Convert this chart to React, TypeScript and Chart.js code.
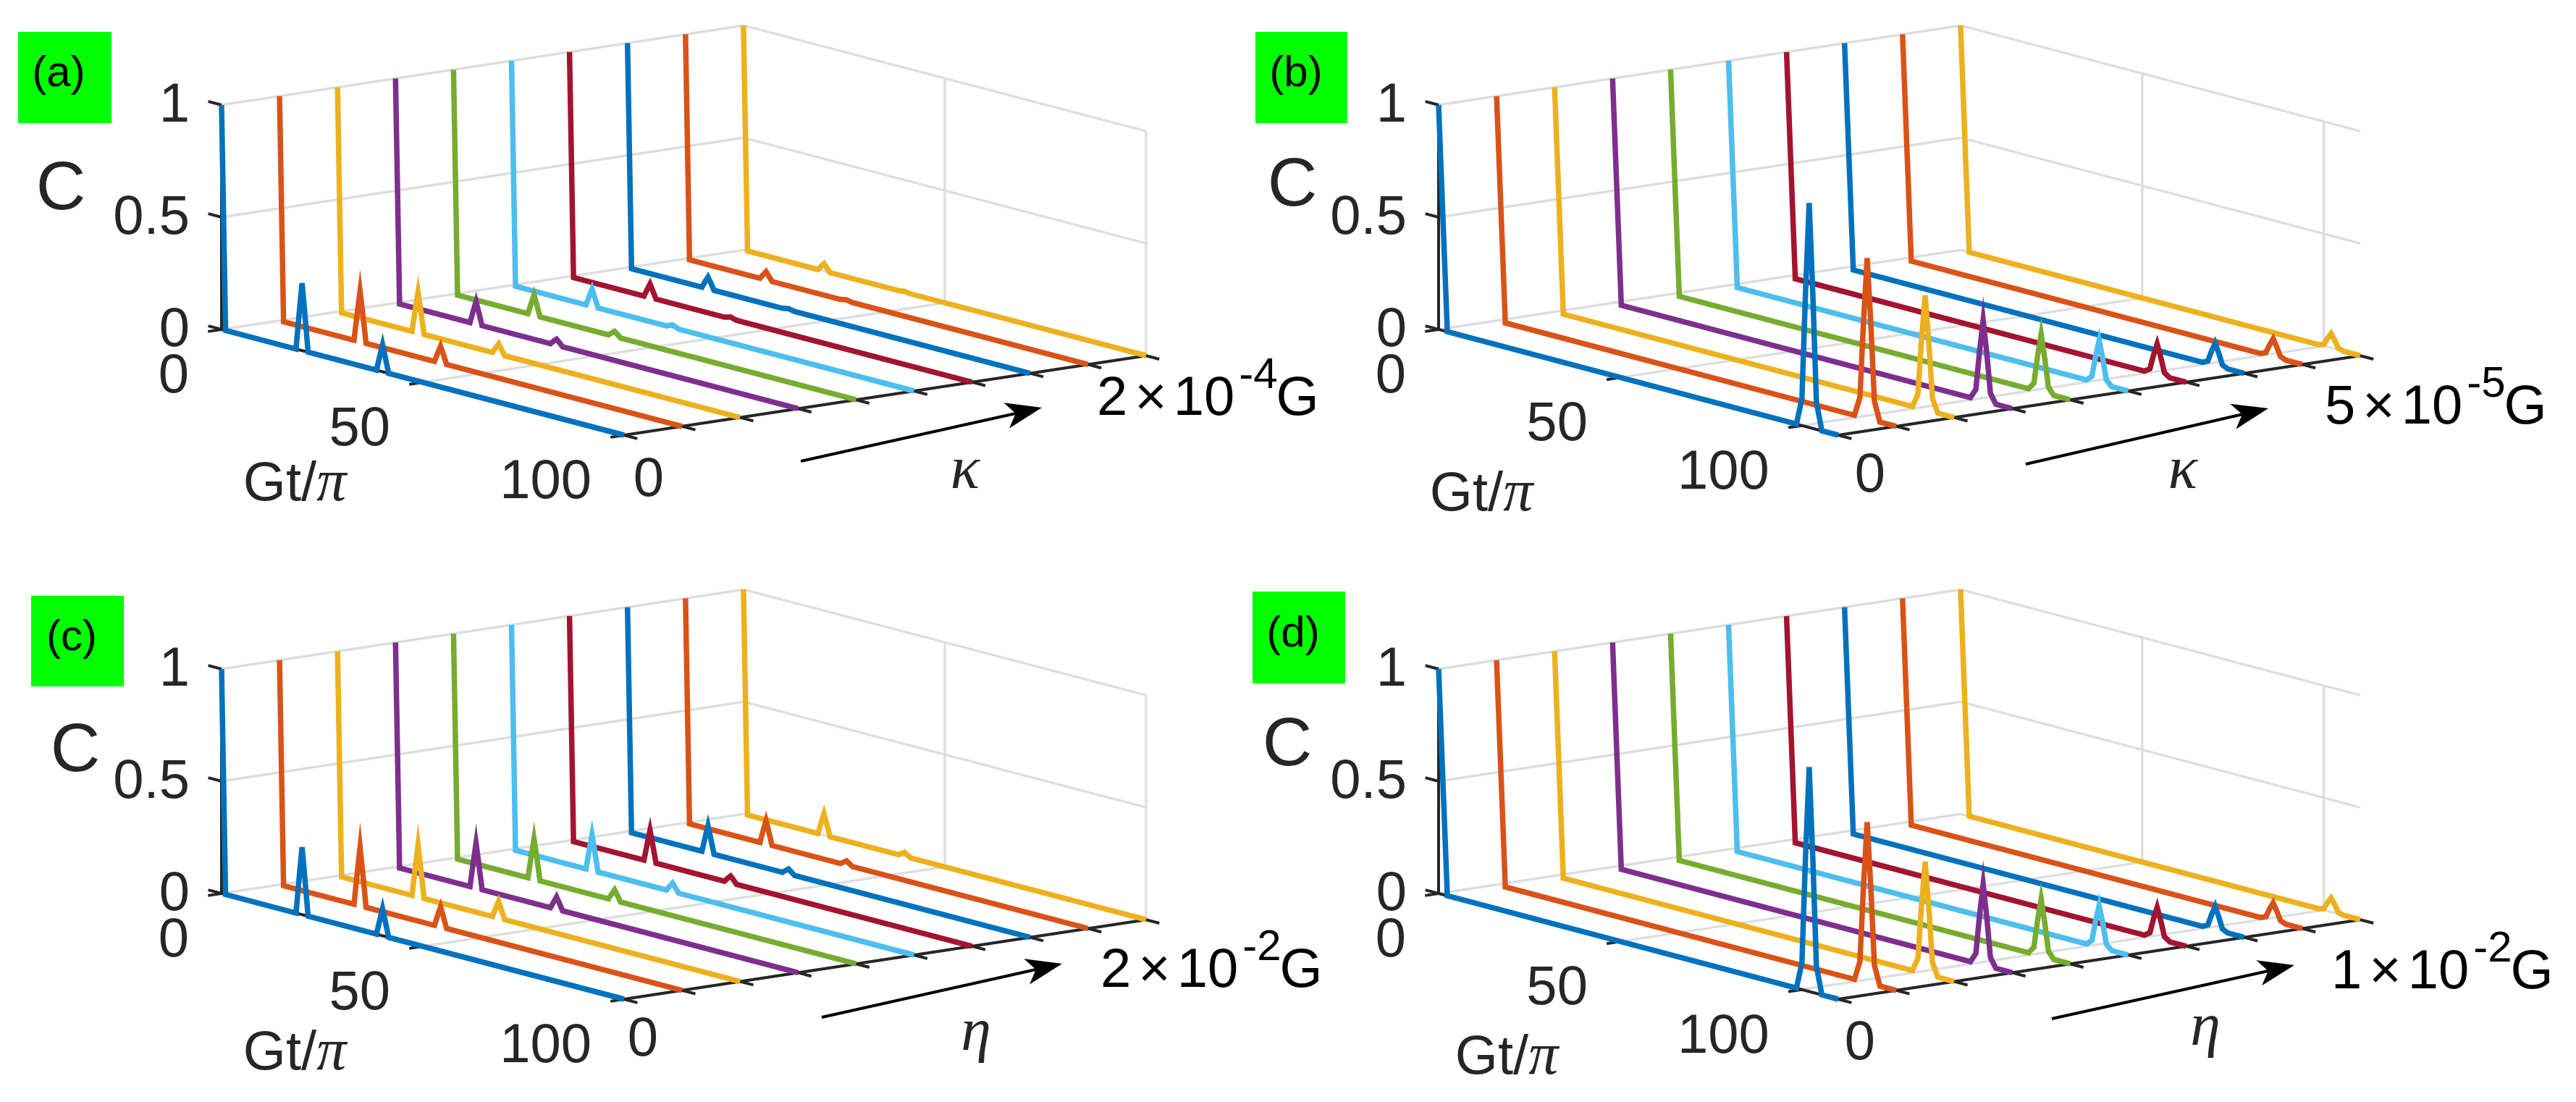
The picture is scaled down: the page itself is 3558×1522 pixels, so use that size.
import React, { useEffect, useRef } from 'react';
import { Chart, registerables } from 'chart.js';

Chart.register(...registerables);

const PAGE_W = 3558;
const PAGE_H = 1522;

// ---------------- data ----------------
const panelIds = ['a', 'b', 'c', 'd'];
const sweepSymbols = ['κ', 'κ', 'η', 'η'];
const sweepMaxMantissa = ['2', '5', '2', '1'];
const sweepMaxExponent = ['-4', '-5', '-2', '-2'];
const sweepTickLabel = '0';
const timeMax = [100, 110, 100, 110];
const timeTicks = [0, 50, 100];
const cTicks = [0, 0.5, 1];
const cTickLabels = ['0', '0.5', '1'];
const traceCount = 10;

// sample times (Gt/pi)
const timesAC = [0, 0.5, 1, 18.5, 19.3, 20, 20.7, 21.5, 38.5, 39.3, 40, 40.7, 41.5, 100];
const timesBD = [0, 1.2, 2.4, 98.5, 100, 101, 102, 103, 104, 105.5, 110];

// concurrence C for each trace (rows: sweep index 0..9)
const concurrenceA = [
  [1, 0.5, 0, 0, 0.165, 0.30, 0.165, 0, 0, 0.066, 0.12, 0.066, 0, 0],
  [1, 0.5, 0, 0, 0.124, 0.225, 0.124, 0, 0, 0.041, 0.074, 0.041, 0, 0],
  [1, 0.5, 0, 0, 0.099, 0.18, 0.099, 0, 0, 0.025, 0.045, 0.025, 0, 0],
  [1, 0.5, 0, 0, 0.055, 0.10, 0.055, 0, 0, 0.015, 0.027, 0.015, 0, 0],
  [1, 0.5, 0, 0, 0.05, 0.09, 0.05, 0, 0, 0.012, 0.022, 0.012, 0, 0],
  [1, 0.5, 0, 0, 0.042, 0.077, 0.042, 0, 0, 0.007, 0.012, 0.007, 0, 0],
  [1, 0.5, 0, 0, 0.033, 0.06, 0.033, 0, 0, 0.004, 0.008, 0.004, 0, 0],
  [1, 0.5, 0, 0, 0.029, 0.052, 0.029, 0, 0, 0.003, 0.006, 0.003, 0, 0],
  [1, 0.5, 0, 0, 0.02, 0.037, 0.02, 0, 0, 0.003, 0.005, 0.003, 0, 0],
  [1, 0.5, 0, 0, 0.018, 0.033, 0.018, 0, 0, 0.002, 0.004, 0.002, 0, 0],
];

const concurrenceB = [
  [1, 0.5, 0, 0, 0.12, 0.6, 1.0, 0.6, 0.12, 0, 0],
  [1, 0.5, 0, 0, 0.086, 0.429, 0.715, 0.429, 0.086, 0, 0],
  [1, 0.5, 0, 0, 0.061, 0.306, 0.51, 0.306, 0.061, 0, 0],
  [1, 0.5, 0, 0, 0.043, 0.216, 0.36, 0.216, 0.043, 0, 0],
  [1, 0.5, 0, 0, 0.031, 0.154, 0.257, 0.154, 0.031, 0, 0],
  [1, 0.5, 0, 0, 0.023, 0.114, 0.19, 0.114, 0.023, 0, 0],
  [1, 0.5, 0, 0, 0.016, 0.082, 0.136, 0.082, 0.016, 0, 0],
  [1, 0.5, 0, 0, 0.012, 0.06, 0.10, 0.06, 0.012, 0, 0],
  [1, 0.5, 0, 0, 0.01, 0.048, 0.08, 0.048, 0.01, 0, 0],
  [1, 0.5, 0, 0, 0.008, 0.038, 0.064, 0.038, 0.008, 0, 0],
];

const concurrenceC = [
  [1, 0.5, 0, 0, 0.165, 0.30, 0.165, 0, 0, 0.066, 0.12, 0.066, 0, 0],
  [1, 0.5, 0, 0, 0.143, 0.26, 0.143, 0, 0, 0.049, 0.089, 0.049, 0, 0],
  [1, 0.5, 0, 0, 0.127, 0.23, 0.127, 0, 0, 0.041, 0.074, 0.041, 0, 0],
  [1, 0.5, 0, 0, 0.11, 0.20, 0.11, 0, 0, 0.03, 0.055, 0.03, 0, 0],
  [1, 0.5, 0, 0, 0.099, 0.18, 0.099, 0, 0, 0.026, 0.047, 0.026, 0, 0],
  [1, 0.5, 0, 0, 0.087, 0.158, 0.087, 0, 0, 0.021, 0.038, 0.021, 0, 0],
  [1, 0.5, 0, 0, 0.076, 0.139, 0.076, 0, 0, 0.017, 0.03, 0.017, 0, 0],
  [1, 0.5, 0, 0, 0.066, 0.12, 0.066, 0, 0, 0.012, 0.022, 0.012, 0, 0],
  [1, 0.5, 0, 0, 0.057, 0.103, 0.057, 0, 0, 0.01, 0.019, 0.01, 0, 0],
  [1, 0.5, 0, 0, 0.052, 0.095, 0.052, 0, 0, 0.009, 0.017, 0.009, 0, 0],
];

const concurrenceD = [
  [1, 0.5, 0, 0, 0.12, 0.6, 1.0, 0.6, 0.12, 0, 0],
  [1, 0.5, 0, 0, 0.086, 0.429, 0.715, 0.429, 0.086, 0, 0],
  [1, 0.5, 0, 0, 0.06, 0.30, 0.50, 0.30, 0.06, 0, 0],
  [1, 0.5, 0, 0, 0.043, 0.216, 0.36, 0.216, 0.043, 0, 0],
  [1, 0.5, 0, 0, 0.031, 0.153, 0.255, 0.153, 0.031, 0, 0],
  [1, 0.5, 0, 0, 0.022, 0.111, 0.185, 0.111, 0.022, 0, 0],
  [1, 0.5, 0, 0, 0.017, 0.083, 0.139, 0.083, 0.017, 0, 0],
  [1, 0.5, 0, 0, 0.012, 0.062, 0.104, 0.062, 0.012, 0, 0],
  [1, 0.5, 0, 0, 0.01, 0.048, 0.08, 0.048, 0.01, 0, 0],
  [1, 0.5, 0, 0, 0.007, 0.037, 0.062, 0.037, 0.007, 0, 0],
];

const panelTimes = [timesAC, timesBD, timesAC, timesBD];
const panelValues = [concurrenceA, concurrenceB, concurrenceC, concurrenceD];

// ---------------- styles / layout ----------------
const traceColors = ['#0072BD', '#D95319', '#EDB120', '#7E2F8E', '#77AC30', '#4DBEEE', '#A2142F', '#0072BD', '#D95319', '#EDB120'];
const GRID_COLOR = '#DEDEDE';
const AXIS_COLOR = '#262626';
const SANS = '"Liberation Sans", Arial, Helvetica, sans-serif';
const SERIF = '"Liberation Serif", "DejaVu Serif", serif';
const TRACE_W = 7.5;
const GRID_W = 3.4;
const AXIS_W = 4;

// projection of the 3-D box for each panel (page pixels)
const panelLayout = [
  { ox: 306, oy: 455, tVec: [556, 146], box: [25, 44, 129, 126], cLabel: [84, 255], gtLabel: [407, 664], sweepLabel: [1333, 656], zeroLabel: [896, 658], sci: [1515, 573], arrow: [1106, 637, 1439, 563] },
  { ox: 1987, oy: 455, tVec: [552, 146], box: [1734, 44, 127, 126], cLabel: [1785, 250], gtLabel: [2046, 678], sweepLabel: [3015, 656], zeroLabel: [2583, 652], sci: [3211, 585], arrow: [2798, 641, 3133, 564] },
  { ox: 306, oy: 1234, tVec: [556, 146], box: [43, 823, 128, 125], cLabel: [104, 1031], gtLabel: [407, 1450], sweepLabel: [1348, 1440], zeroLabel: [888, 1431], sci: [1520, 1363], arrow: [1135, 1405, 1467, 1331] },
  { ox: 1987, oy: 1234, tVec: [552, 146], box: [1730, 817, 128, 127], cLabel: [1778, 1023], gtLabel: [2081, 1456], sweepLabel: [3046, 1433], zeroLabel: [2569, 1436], sci: [3220, 1365], arrow: [2834, 1407, 3169, 1333] },
];
const K_STEP = [80.1, -12.2];
const C_HEIGHT = 310;
const TICK_LEN = 19;

function proj(p: number, t: number, k: number, c: number) {
  const L = panelLayout[p];
  const f = t / timeMax[p];
  return {
    x: L.ox + f * L.tVec[0] + k * K_STEP[0],
    y: L.oy + f * L.tVec[1] + k * K_STEP[1] - c * C_HEIGHT,
  };
}

function unit(v: number[]) {
  const l = Math.hypot(v[0], v[1]);
  return [v[0] / l, v[1] / l];
}

function seg(points: { x: number; y: number }[], color: string, width: number, order: number) {
  return {
    data: points,
    showLine: true,
    borderColor: color,
    backgroundColor: color,
    borderWidth: width,
    pointRadius: 0,
    pointHoverRadius: 0,
    tension: 0,
    fill: false,
    order,
    borderJoinStyle: 'miter',
    borderCapStyle: 'butt',
  };
}

function buildDatasets() {
  const ds: any[] = [];
  const kMax = traceCount - 1;
  panelIds.forEach((_, p) => {
    const tMax = timeMax[p];
    const gridT = timeTicks.filter((t) => t > 0 && t <= tMax);
    // grid: left wall
    cTicks.forEach((c) => ds.push(seg([proj(p, 0, 0, c), proj(p, 0, kMax, c)], GRID_COLOR, GRID_W, 100)));
    // grid: back wall horizontals
    cTicks.forEach((c) => ds.push(seg([proj(p, 0, kMax, c), proj(p, tMax, kMax, c)], GRID_COLOR, GRID_W, 100)));
    // grid: back wall verticals + floor lines
    gridT.forEach((t) => {
      ds.push(seg([proj(p, t, kMax, 0), proj(p, t, kMax, 1)], GRID_COLOR, GRID_W, 100));
      ds.push(seg([proj(p, t, 0, 0), proj(p, t, kMax, 0)], GRID_COLOR, GRID_W, 100));
    });
    // axes
    ds.push(seg([proj(p, 0, 0, 0), proj(p, 0, 0, 1)], AXIS_COLOR, AXIS_W, 50));
    ds.push(seg([proj(p, 0, 0, 0), proj(p, tMax, 0, 0)], AXIS_COLOR, AXIS_W, 50));
    ds.push(seg([proj(p, tMax, 0, 0), proj(p, tMax, kMax, 0)], AXIS_COLOR, AXIS_W, 50));
    const L = panelLayout[p];
    const tDir = unit(L.tVec);
    const kDir = unit(K_STEP);
    cTicks.forEach((c) => {
      const a = proj(p, 0, 0, c);
      ds.push(seg([a, { x: a.x - tDir[0] * TICK_LEN, y: a.y - tDir[1] * TICK_LEN }], AXIS_COLOR, AXIS_W, 50));
    });
    timeTicks.forEach((t) => {
      const a = proj(p, t, 0, 0);
      ds.push(seg([a, { x: a.x - kDir[0] * TICK_LEN, y: a.y - kDir[1] * TICK_LEN }], AXIS_COLOR, AXIS_W, 50));
    });
    for (let k = 0; k < traceCount; k++) {
      const a = proj(p, tMax, k, 0);
      ds.push(seg([a, { x: a.x + tDir[0] * TICK_LEN, y: a.y + tDir[1] * TICK_LEN }], AXIS_COLOR, AXIS_W, 50));
    }
    // traces
    const times = panelTimes[p];
    const vals = panelValues[p];
    for (let k = 0; k < traceCount; k++) {
      const pts = times.map((t, i) => proj(p, t, k, vals[k][i]));
      ds.push(seg(pts, traceColors[k], TRACE_W, k));
    }
  });
  return ds;
}

const overlayPlugin = {
  id: 'overlay',
  afterDatasetsDraw(chart: any) {
    const ctx: CanvasRenderingContext2D = chart.ctx;
    const sx = chart.scales.x;
    const sy = chart.scales.y;
    const X = (v: number) => sx.getPixelForValue(v);
    const Y = (v: number) => sy.getPixelForValue(v);
    ctx.save();
    const text = (s: string, x: number, y: number, font: string, align: CanvasTextAlign, color: string) => {
      ctx.font = font;
      ctx.textAlign = align;
      ctx.textBaseline = 'alphabetic';
      ctx.fillStyle = color;
      ctx.fillText(s, X(x), Y(y));
    };
    const width = (s: string, font: string) => {
      ctx.font = font;
      return ctx.measureText(s).width;
    };
    const tickFont = `76px ${SANS}`;
    panelIds.forEach((id, p) => {
      const L = panelLayout[p];
      // green panel tag
      ctx.fillStyle = '#00FF00';
      ctx.fillRect(X(L.box[0]), Y(L.box[1]), X(L.box[0] + L.box[2]) - X(L.box[0]), Y(L.box[1] + L.box[3]) - Y(L.box[1]));
      text(`(${id})`, L.box[0] + 56, L.box[1] + L.box[3] / 2 + 12, `60px ${SANS}`, 'center', '#000');
      // C ticks
      cTicks.forEach((c, i) => {
        const a = proj(p, 0, 0, c);
        text(cTickLabels[i], a.x - 44, a.y + 23, tickFont, 'right', AXIS_COLOR);
      });
      // time ticks
      timeTicks.forEach((t) => {
        const a = proj(p, t, 0, 0);
        text(String(t), a.x - 45, a.y + 60 + 27, tickFont, 'right', AXIS_COLOR);
      });
      // sweep tick 0
      text(sweepTickLabel, L.zeroLabel[0], L.zeroLabel[1] + 27, tickFont, 'center', AXIS_COLOR);
      // C label
      text('C', L.cLabel[0], L.cLabel[1] + 34, `95px ${SANS}`, 'center', AXIS_COLOR);
      // Gt/pi label
      const gFont = `76px ${SANS}`;
      const pFont = `italic 82px ${SERIF}`;
      const w1 = width('Gt/', gFont);
      const w2 = width('π', pFont);
      const gx = L.gtLabel[0] - (w1 + w2) / 2;
      text('Gt/', gx, L.gtLabel[1] + 27, gFont, 'left', AXIS_COLOR);
      text('π', gx + w1, L.gtLabel[1] + 27, pFont, 'left', AXIS_COLOR);
      // sweep symbol
      const symOff = sweepSymbols[p] === 'η' ? 10 : 18;
      text(sweepSymbols[p], L.sweepLabel[0], L.sweepLabel[1] + symOff, `italic 84px ${SERIF}`, 'center', AXIS_COLOR);
      // sweep max label: m x 10^e G
      const big = `76px ${SANS}`;
      const small = `60px ${SANS}`;
      let cx = L.sci[0];
      const base = L.sci[1];
      text(sweepMaxMantissa[p], cx, base, big, 'left', '#000');
      cx += width(sweepMaxMantissa[p], big) + 10;
      text('×', cx, base, big, 'left', '#000');
      cx += width('×', big) + 9;
      text('10', cx, base, big, 'left', '#000');
      cx += width('10', big) + 6;
      text(sweepMaxExponent[p], cx, base - 37, small, 'left', '#000');
      cx += width(sweepMaxExponent[p], small) - 2;
      text('G', cx, base, big, 'left', '#000');
      // arrow
      const [x0, y0, x1, y1] = L.arrow;
      const d = unit([x1 - x0, y1 - y0]);
      const n = [-d[1], d[0]];
      const headLen = 50, headW = 18, notch = 13;
      const bx = x1 - d[0] * headLen, by = y1 - d[1] * headLen;
      ctx.strokeStyle = '#000';
      ctx.fillStyle = '#000';
      ctx.lineWidth = 4;
      ctx.beginPath();
      ctx.moveTo(X(x0), Y(y0));
      ctx.lineTo(X(bx + d[0] * notch), Y(by + d[1] * notch));
      ctx.stroke();
      ctx.beginPath();
      ctx.moveTo(X(x1), Y(y1));
      ctx.lineTo(X(bx + n[0] * headW), Y(by + n[1] * headW));
      ctx.lineTo(X(bx + d[0] * notch), Y(by + d[1] * notch));
      ctx.lineTo(X(bx - n[0] * headW), Y(by - n[1] * headW));
      ctx.closePath();
      ctx.fill();
    });
    ctx.restore();
  },
};

export default function App() {
  const ref = useRef<HTMLCanvasElement>(null);
  useEffect(() => {
    document.body.style.margin = '0';
    const canvas = ref.current;
    if (!canvas) return;
    const chart = new Chart(canvas, {
      type: 'scatter',
      data: { datasets: buildDatasets() as any },
      options: {
        animation: false,
        responsive: false,
        maintainAspectRatio: false,
        devicePixelRatio: 1,
        events: [],
        layout: { padding: 0 },
        plugins: { legend: { display: false }, tooltip: { enabled: false } },
        scales: {
          x: { type: 'linear', min: 0, max: PAGE_W, display: false },
          y: { type: 'linear', min: 0, max: PAGE_H, reverse: true, display: false },
        },
      },
      plugins: [overlayPlugin],
    });
    return () => chart.destroy();
  }, []);
  return (
    <div style={{ position: 'absolute', left: 0, top: 0, width: PAGE_W, height: PAGE_H, background: '#ffffff' }}>
      <canvas ref={ref} width={PAGE_W} height={PAGE_H} style={{ display: 'block', width: PAGE_W, height: PAGE_H }} />
    </div>
  );
}
